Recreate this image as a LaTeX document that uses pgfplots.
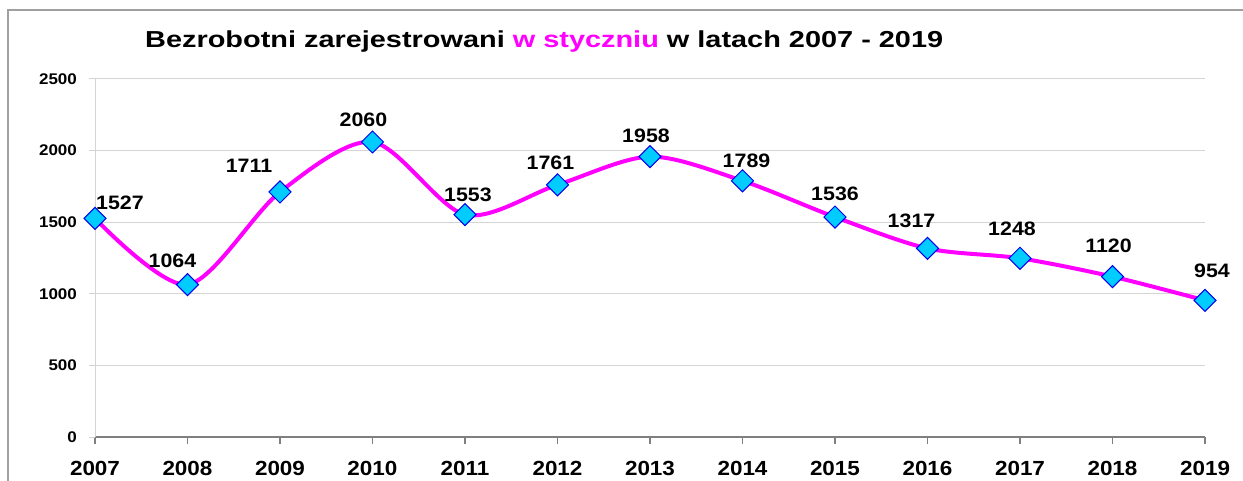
\documentclass[border=0pt]{standalone}
\usepackage{pgfplots}
\pgfplotsset{compat=1.18}
\usepackage{pgfplotstable}
\usepackage{fontspec}
\setmainfont{Liberation Sans}
\newfontfamily\lblfont[FakeStretch=1.1]{Liberation Sans}
\newfontfamily\ttlfont[FakeStretch=1.25]{Liberation Sans}
\definecolor{mag}{HTML}{FF00FF}
\definecolor{mcyan}{HTML}{00CCFF}
\definecolor{medge}{HTML}{0000EE}
\definecolor{gridc}{HTML}{D4D4D4}
\definecolor{axc}{HTML}{7F7F7F}
\definecolor{framec}{HTML}{A0A0A0}

\pgfplotstableread{
x y dx dy
2007 1527 25 16
2008 1064 -15 24
2009 1711 -31 26
2010 2060 -9 22
2011 1553 3 20
2012 1761 -7 22.5
2013 1958 -4 21
2014 1789 4 20
2015 1536 0 23
2016 1317 -16 28
2017 1248 -8 29
2018 1120 -4 31
2019 954 7 30
}\data

\begin{document}
\begin{tikzpicture}
\begin{axis}[
  at={(0,0)}, anchor=south west,
  scale only axis, width=1110bp, height=358bp,
  xmin=2007, xmax=2019, ymin=0, ymax=2500,
  xtick={2007,2008,...,2019}, ytick={0,500,...,2500},
  /pgf/number format/.cd, 1000 sep={}, assume math mode=true, /pgfplots/.cd,
  axis x line*=bottom, axis y line*=left,
  x axis line style={-, draw=axc, line width=1.2bp},
  y axis line style={-, draw=gridc, line width=1bp},
  tick align=outside, major tick length=6.5bp,
  xtick style={draw=axc, line width=1.2bp},
  ytick style={draw=gridc, line width=1bp},
  ymajorgrids, grid style={draw=gridc, line width=1bp},
  xticklabel style={font=\lblfont\bfseries\fontsize{20.5}{24}\selectfont, inner sep=0pt, anchor=center, yshift=-25bp},
  yticklabel style={font=\lblfont\bfseries\fontsize{15.5}{18}\selectfont, inner sep=0pt, anchor=east, xshift=-11.5bp},
  clip=false,
]
\addplot[mag, line width=4bp, smooth, tension=0.5,
  mark=square*, mark size=7.8bp,
  mark options={rotate=45, fill=mcyan, draw=medge, line width=1bp, solid},
  nodes near coords, point meta=explicit,
  visualization depends on={\thisrow{dx} \as \dx},
  visualization depends on={\thisrow{dy} \as \dy},
  every node near coord/.append style={anchor=center, inner sep=0pt, xshift=\dx bp, yshift=\dy bp, text=black, font=\lblfont\bfseries\fontsize{19.5}{22}\selectfont},
] table[x=x, y=y, meta=y] {\data};
\end{axis}
\draw[framec, line width=1.5bp] (-87bp,-44bp) -- (-87bp,427bp) -- (1148bp,427bp);
\node[anchor=base west, inner sep=0pt] at (50bp,389.3bp) {\ttlfont\bfseries\fontsize{23.2}{26}\selectfont Bezrobotni zarejestrowani \textcolor{mag}{w styczniu} w latach 2007 - 2019};
\pgfresetboundingbox
\path[use as bounding box] (-95bp,-44bp) rectangle (1148bp,437bp);
\end{tikzpicture}
\end{document}
